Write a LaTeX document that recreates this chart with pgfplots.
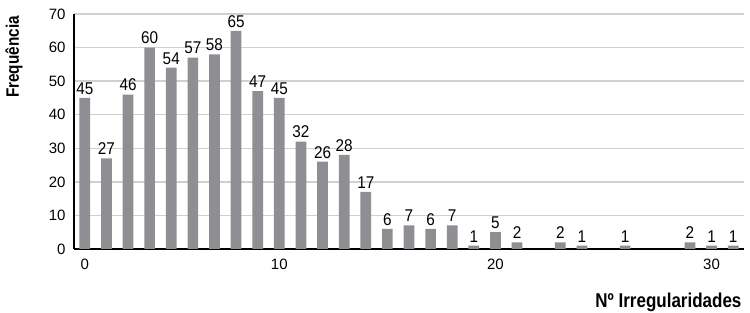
\documentclass[border=0pt]{standalone}
\usepackage{pgfplots}
\pgfplotsset{compat=1.18}
\usepackage{fontspec}
\setmainfont{Liberation Sans}
\newfontfamily\narrowfont[FakeStretch=0.9]{Liberation Sans}
\newfontfamily\labelfont[FakeStretch=0.85]{Liberation Sans}
\definecolor{barc}{HTML}{8E8F93}
\definecolor{gridc}{HTML}{D0D0D0}
\begin{document}
\begin{tikzpicture}
\path[use as bounding box] (-74pt,-64pt) rectangle (676pt,249pt);
\begin{axis}[
  anchor=south west, at={(0pt,0pt)},
  scale only axis, width=670pt, height=235pt,
  xmin=-0.5, xmax=30.5, ymin=0, ymax=70,
  axis x line=bottom, axis y line=left,
  axis line style={-, black},
  x axis line style={line width=2.5pt},
  y axis line style={line width=1.5pt},
  ytick={0,10,...,70},
  xtick={0,9,19,29}, xticklabels={0,10,20,30},
  major tick length=0pt,
  ymajorgrids, grid style={gridc, line width=1.3pt},
  /pgf/number format/assume math mode=true,
  ticklabel style={font=\fontsize{15}{17}\selectfont},
  yticklabel style={xshift=-5pt},
  xticklabel style={yshift=-6pt},
  tick align=outside,
  clip=false,
]
\addplot[ybar, bar width=10.7pt, fill=barc, draw=none,
  nodes near coords,
  every node near coord/.append style={font=\narrowfont\fontsize{17}{19}\selectfont, black, yshift=0pt}]
  table {
x y
0 45
1 27
2 46
3 60
4 54
5 57
6 58
7 65
8 47
9 45
10 32
11 26
12 28
13 17
14 6
15 7
16 6
17 7
18 1
19 5
20 2
22 2
23 1
25 1
28 2
29 1
30 1
};
\end{axis}
\node[anchor=east, font=\labelfont\bfseries\fontsize{20}{22}\selectfont] at (671pt,-53pt) {Nº Irregularidades};
\node[rotate=90, font=\labelfont\bfseries\fontsize{18}{20}\selectfont] at (-60pt,192pt) {Frequência};
\end{tikzpicture}
\end{document}
